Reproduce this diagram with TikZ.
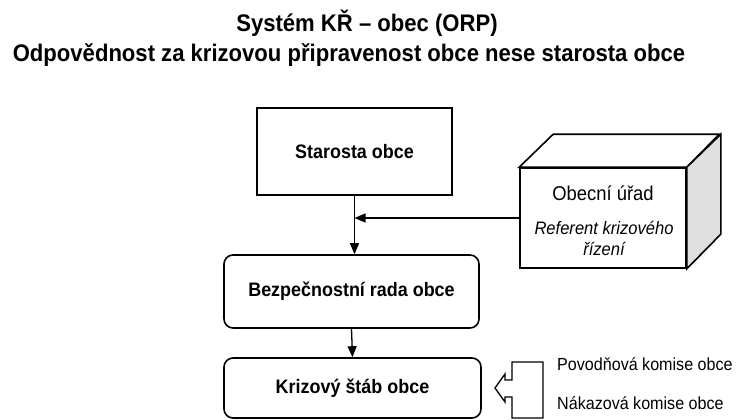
\documentclass[tikz,border=0pt]{standalone}
\usepackage{fontspec}
\setmainfont[FakeStretch=0.92]{Liberation Sans}
\usetikzlibrary{arrows.meta}

\begin{document}
\begin{tikzpicture}[x=1pt,y=-1pt,
    titulek/.style={font=\bfseries\fontsize{24}{26}\selectfont, inner sep=0pt},
    blok/.style={draw, line width=1.6pt, fill=white, font=\bfseries\fontsize{19.5}{21}\selectfont},
    rada/.style={blok, rounded corners=9pt},
    sipka/.style={line width=1.3pt, -{Triangle[length=11pt,width=9pt]}},
    komise/.style={anchor=west, inner sep=0pt, font=\fontsize{17.5}{19}\selectfont}]
                \useasboundingbox (0,0) rectangle (755,420);
                \node[titulek](nadpis)at(367,23){Systém KŘ -- obec (ORP)};
                \node[titulek](podnadpis)at(349,55){Odpovědnost za krizovou připravenost obce nese starosta obce};
                \node[blok,minimum width=195pt,minimum height=87pt](starosta)at(354.5,151.5){Starosta obce};
                \node[rada,minimum width=255pt,minimum height=73pt](bezpecnost)at(351.5,291.5){Bezpečnostní rada obce};
                \node[rada,minimum width=257pt,minimum height=60pt](stab)at(352.5,388){Krizový štáb obce};
                % krychle - obecni urad
                \node[draw,line width=1.6pt,fill=white,minimum width=166pt,minimum height=100pt,inner sep=0pt](urad)at(603,218){};
                \draw[line width=1.6pt,fill=white](urad.north west)--++(34,-33)--++(166,0)--(urad.north east)--cycle;
                \draw[line width=1.6pt,fill=gray!25](urad.north east)--++(34,-33)--++(0,100)--(urad.south east)--cycle;
                \node[font=\fontsize{20}{22}\selectfont](obecni)at(603,193){Obecní úřad};
                \node[font=\itshape\fontsize{18}{21}\selectfont,align=center](referent)at(604,238){Referent krizového\\řízení};
                \coordinate(spoj)at(starosta.south |- urad.west);
                \draw[sipka](starosta.south)--(starosta.south |- bezpecnost.north);
                \draw[sipka](urad.west)--(spoj);
                \draw[sipka](bezpecnost.south)--(stab.north);
                % komise
                \draw[line width=1.3pt](512,380)--(505,380)--(505,374)--(495,388)--(505,402)--(505,397)--(512,397)
                    --(512,418)--(543,418)--(543,362)--(512,362)--cycle;
                \node[komise](povodnova)at(557,364){Povodňová komise obce};
                \node[komise](nakazova)at(557,403){Nákazová komise obce};
\end{tikzpicture}
\end{document}
